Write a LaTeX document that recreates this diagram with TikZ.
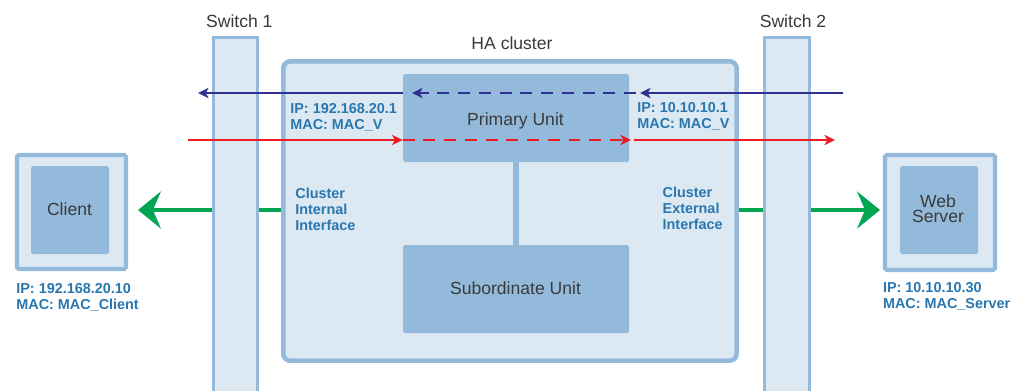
\documentclass[tikz,border=0pt]{standalone}
\usepackage{fontspec}
\setmainfont{Liberation Sans}
\usetikzlibrary{arrows.meta,fit}
\pgfdeclarelayer{bg}
\pgfsetlayers{bg,main}
\definecolor{paleblue}{HTML}{DCE8F2}
\definecolor{boxblue}{HTML}{94BADB}
\definecolor{addrblue}{HTML}{2A77B0}
\definecolor{inkgray}{HTML}{3A3A3A}
\definecolor{flowgreen}{HTML}{00A651}
\definecolor{flowblue}{HTML}{2E3192}
\definecolor{flowred}{HTML}{ED1C24}
\tikzset{
  panel/.style={draw=boxblue, fill=paleblue, inner sep=0pt},
  unitbox/.style={fill=boxblue, inner sep=0pt, rounded corners=1pt},
  hdr/.style={font=\fontsize{10}{8.85}\selectfont, text=inkgray, inner sep=0pt, anchor=base},
  addr/.style={font=\bfseries\fontsize{8.2}{9.1}\selectfont, text=addrblue, inner sep=0pt,
               anchor=north west, align=left},
  greenline/.style={draw=flowgreen, line width=2.4pt},
  greenflow/.style={greenline, -{Stealth[length=13pt,width=21pt,inset=4.5pt]}},
  thinflow/.style={line width=0.9pt, -{Stealth[length=6pt,width=5.8pt,inset=1.6pt]}},
  dashflow/.style={thinflow, dash pattern=on 6.8pt off 5pt},
}
\begin{document}
\begin{tikzpicture}[x=0.02cm,y=-0.02cm]
\clip (0,0) rectangle (1020,390);
\begin{pgfonlayer}{bg}
  \fill[white] (0,0) rectangle (1020,390);
\end{pgfonlayer}

% switches
\node[panel, line width=1.7pt, fit={(213.5,37.5) (257.5,400)}] (sw1) {};
\node[panel, line width=1.7pt, fit={(764.5,37.5) (809.5,400)}] (sw2) {};

% HA cluster with its two units
\node[panel, line width=2.6pt, rounded corners=4pt, fit={(283.3,61.3) (736.7,360.7)}] (ha) {};
\node[unitbox, fit={(403,74) (629,162)}] (prim) {};
\node[unitbox, fit={(403,245) (629,333)}] (sub) {};
\draw[boxblue, line width=3pt] (prim.south) -- (sub.north);

% hosts
\node[panel, line width=2.3pt, rounded corners=1pt, fit={(17,155) (126,269)}] (cli) {};
\node[unitbox, fit={(31,166) (109,254)}] (cliin) {};
\node[panel, line width=2.3pt, rounded corners=1pt, fit={(885,155) (995,270)}] (srv) {};
\node[unitbox, fit={(900,166) (978,254)}] (srvin) {};

% green traffic path
\coordinate (gy) at (0,210);
\coordinate (tipC) at (138,210);
\coordinate (tipS) at (880,210);
\begin{pgfonlayer}{bg}
  \draw[greenline] (sw1.east |- gy) -- (ha.west |- gy);
  \draw[greenline] (ha.east |- gy) -- (sw2.west |- gy);
\end{pgfonlayer}
\draw[greenflow] (sw1.west |- gy) -- (tipC);
\draw[greenflow] (sw2.east |- gy) -- (tipS);

% blue flow (server to client)
\coordinate (bR) at (843,93);
\coordinate (b1) at (640,93);
\coordinate (b2) at (636,93);
\coordinate (b3) at (412,93);
\coordinate (bL) at (198,93);
\draw[thinflow, flowblue] (bR) -- (b1);
\draw[dashflow, flowblue] (b2) -- (b3);
\draw[thinflow, flowblue] (prim.west |- bR) -- (bL);

% red flow (client to server)
\coordinate (rL) at (188,140);
\coordinate (r1) at (631,140);
\coordinate (r2) at (634,140);
\coordinate (rR) at (835,140);
\draw[thinflow, flowred] (rL) -- (prim.west |- rL);
\draw[dashflow, flowred] (prim.west |- rL) -- (r1);
\draw[thinflow, flowred] (r2) -- (rR);

% captions
\node[hdr] (sw1t) at (239.3,27.3) {Switch 1};
\node[hdr] (sw2t) at (793,27.3) {Switch 2};
\node[hdr] (hat) at (512,49.3) {HA cluster};
\node[hdr] (primt) at (515.5,125.7) {Primary Unit};
\node[hdr] (subt) at (515.5,294.3) {Subordinate Unit};
\node[hdr] (clit) at (69.5,215.7) {Client};
\node[hdr, align=center, anchor=north] (srvt) at (938,194) {Web\\Server};

% addresses and interface names
\node[addr] (inaddr) at (290,103) {IP: 192.168.20.1\\MAC: MAC\_V};
\node[addr] (exaddr) at (637,102) {IP: 10.10.10.1\\MAC: MAC\_V};
\node[addr] (cliaddr) at (16,282.7) {IP: 192.168.20.10\\MAC: MAC\_Client};
\node[addr] (srvaddr) at (882.7,281.7) {IP: 10.10.10.30\\MAC: MAC\_Server};
\node[addr] (intif) at (295,187.3) {Cluster\\Internal\\Interface};
\node[addr] (extif) at (662.3,187) {Cluster\\External\\Interface};
\end{tikzpicture}
\end{document}
